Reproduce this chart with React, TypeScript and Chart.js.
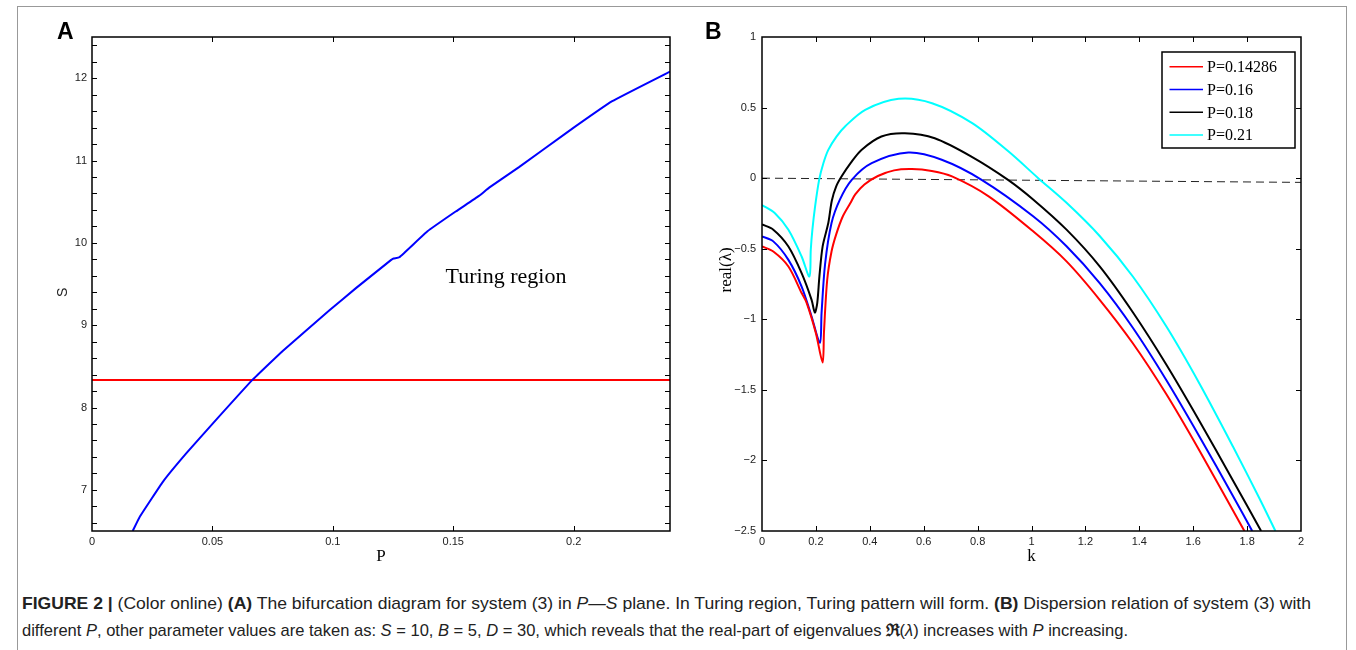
import React, { useEffect, useLayoutEffect, useRef } from 'react';
import { Chart, registerables } from 'chart.js';

Chart.register(...registerables);

// ---------- Panel A data ----------
const bifP = [0.0169, 0.0199, 0.0295, 0.0392, 0.0503, 0.0666, 0.0793, 0.0986, 0.1096, 0.1241, 0.1252, 0.1276, 0.1393, 0.151, 0.1607, 0.1649, 0.1773, 0.1967, 0.216, 0.24];
const bifS = [6.5, 6.676, 7.1, 7.445, 7.81, 8.335, 8.69, 9.18, 9.45, 9.79, 9.81, 9.824, 10.14, 10.38, 10.57, 10.67, 10.92, 11.33, 11.72, 12.08];
const hopfP = [0, 0.24];
const hopfS = [8.333, 8.333];
const aXTicks = [0, 0.05, 0.1, 0.15, 0.2];
const aYMajor = [7, 8, 9, 10, 11, 12];
const aYMinorStep = 0.2;

// ---------- Panel B data ----------
const seriesLabels = ['P=0.14286', 'P=0.16', 'P=0.18', 'P=0.21'];
const seriesColors = ['#ff0000', '#0000ff', '#000000', '#00ffff'];

const k1 = [0, 0.042, 0.098, 0.147, 0.166, 0.2, 0.225, 0.23, 0.242, 0.258, 0.275, 0.3, 0.328, 0.346, 0.38, 0.43, 0.49, 0.556, 0.63, 0.705, 0.841, 1.006, 1.13, 1.253, 1.376, 1.5, 1.623, 1.79];
const re1 = [-0.484, -0.52, -0.626, -0.814, -0.885, -1.098, -1.306, -1.09, -0.72, -0.52, -0.4, -0.27, -0.176, -0.115, -0.045, 0.015, 0.055, 0.064, 0.05, 0.012, -0.129, -0.377, -0.59, -0.862, -1.17, -1.53, -1.93, -2.5];

const k2 = [0, 0.042, 0.098, 0.147, 0.184, 0.215, 0.221, 0.234, 0.258, 0.289, 0.333, 0.407, 0.543, 0.667, 0.815, 1.006, 1.13, 1.253, 1.376, 1.5, 1.623, 1.747, 1.819];
const re2 = [-0.413, -0.448, -0.579, -0.768, -0.98, -1.167, -0.956, -0.61, -0.318, -0.152, -0.012, 0.106, 0.181, 0.13, -0.012, -0.27, -0.483, -0.744, -1.06, -1.43, -1.83, -2.25, -2.5];

const k3 = [0, 0.042, 0.098, 0.147, 0.184, 0.196, 0.205, 0.213, 0.225, 0.246, 0.259, 0.275, 0.295, 0.33, 0.369, 0.443, 0.53, 0.641, 0.777, 0.913, 1.006, 1.13, 1.253, 1.376, 1.5, 1.623, 1.747, 1.852];
const re3 = [-0.328, -0.365, -0.484, -0.673, -0.862, -0.952, -0.885, -0.696, -0.483, -0.318, -0.16, -0.06, 0.011, 0.11, 0.2, 0.295, 0.318, 0.283, 0.153, -0.012, -0.151, -0.365, -0.625, -0.95, -1.32, -1.72, -2.14, -2.5];

const k4 = [0, 0.048, 0.098, 0.147, 0.176, 0.181, 0.187, 0.197, 0.212, 0.228, 0.246, 0.277, 0.309, 0.383, 0.507, 0.631, 0.78, 0.914, 1.025, 1.13, 1.253, 1.376, 1.5, 1.623, 1.747, 1.846, 1.905];
const re4 = [-0.191, -0.248, -0.366, -0.555, -0.697, -0.507, -0.365, -0.2, -0.012, 0.107, 0.2, 0.296, 0.368, 0.484, 0.562, 0.531, 0.39, 0.19, 0.0, -0.175, -0.41, -0.697, -1.05, -1.455, -1.9, -2.27, -2.5];

const zeroK = [0, 2];
const zeroRe = [0, -0.03];
const bXTicks = [0, 0.2, 0.4, 0.6, 0.8, 1, 1.2, 1.4, 1.6, 1.8, 2];
const bYTicks = [-2.5, -2, -1.5, -1, -0.5, 0, 0.5, 1];

// ---------- helpers ----------
const fmt = (v: number) => {
  const r = Math.round(v * 1e6) / 1e6;
  return (r < 0 ? '\u2212' : '') + String(Math.abs(r));
};
const pts = (xs: number[], ys: number[]) => xs.map((x, i) => ({ x, y: ys[i] }));

const aYTicks: number[] = [];
for (let i = 0; 6.6 + aYMinorStep * i < 12.45; i++) {
  aYTicks.push(Math.round((6.6 + aYMinorStep * i) * 1e6) / 1e6);
}

const SANS = "'Liberation Sans', Arial, Helvetica, sans-serif";
const TICK_FONT = { family: SANS, size: 11 };
const SERIF = "'Liberation Serif', 'Times New Roman', serif";

const frameTicks = {
  id: 'frameTicks',
  afterDraw(chart: any, _a: any, opts: any) {
    const { ctx, chartArea: a, scales } = chart;
    const len = opts.len || 5;
    ctx.save();
    ctx.strokeStyle = '#000';
    ctx.lineWidth = 1;
    ctx.beginPath();
    scales.x.ticks.forEach((t: any) => {
      const px = Math.round(scales.x.getPixelForValue(t.value)) + 0.5;
      if (px <= a.left + 1 || px >= a.right - 1) return;
      ctx.moveTo(px, a.bottom);
      ctx.lineTo(px, a.bottom - len);
      ctx.moveTo(px, a.top);
      ctx.lineTo(px, a.top + len);
    });
    scales.y.ticks.forEach((t: any) => {
      const py = Math.round(scales.y.getPixelForValue(t.value)) + 0.5;
      if (py <= a.top + 1 || py >= a.bottom - 1) return;
      ctx.moveTo(a.left, py);
      ctx.lineTo(a.left + len, py);
      ctx.moveTo(a.right, py);
      ctx.lineTo(a.right - len, py);
    });
    ctx.stroke();
    ctx.lineWidth = 1.5;
    ctx.strokeRect(a.left, a.top, a.right - a.left, a.bottom - a.top);
    ctx.restore();
  },
};

// rotated y-axis title, centred on a value of the y scale
const sideTitle = {
  id: 'sideTitle',
  afterDraw(chart: any, _a: any, opts: any) {
    if (!opts || !opts.text) return;
    const { ctx, scales } = chart;
    ctx.save();
    ctx.translate(opts.x, scales.y.getPixelForValue(opts.y));
    ctx.rotate(-Math.PI / 2);
    ctx.font = opts.font;
    ctx.fillStyle = opts.color || '#000';
    ctx.textAlign = 'center';
    ctx.textBaseline = 'middle';
    ctx.fillText(opts.text, 0, 0);
    ctx.restore();
  },
};

const noteText = {
  id: 'noteText',
  afterDatasetsDraw(chart: any, _a: any, opts: any) {
    if (!opts || !opts.text) return;
    const { ctx, scales } = chart;
    ctx.save();
    ctx.font = opts.font;
    ctx.fillStyle = '#000';
    ctx.textAlign = 'center';
    ctx.textBaseline = 'middle';
    ctx.fillText(opts.text, scales.x.getPixelForValue(opts.x), scales.y.getPixelForValue(opts.y));
    ctx.restore();
  },
};

const boxLegend = {
  id: 'boxLegend',
  afterDraw(chart: any, _a: any, opts: any) {
    if (!opts || !opts.show) return;
    const { ctx, chartArea: a } = chart;
    const items = chart.data.datasets.filter((d: any) => !d.noLegend);
    const w = 133, h = 96;
    const left = a.right - 6 - w;
    const top = a.top + 15;
    ctx.save();
    ctx.fillStyle = '#fff';
    ctx.fillRect(left, top, w, h);
    ctx.strokeStyle = '#000';
    ctx.lineWidth = 1.5;
    ctx.strokeRect(left, top, w, h);
    ctx.font = `16px ${SERIF}`;
    ctx.textBaseline = 'middle';
    ctx.textAlign = 'left';
    items.forEach((d: any, i: number) => {
      const y = top + 14.7 + i * 22.8;
      ctx.strokeStyle = d.borderColor;
      ctx.lineWidth = 1.5;
      ctx.beginPath();
      ctx.moveTo(left + 7.5, y);
      ctx.lineTo(left + 41, y);
      ctx.stroke();
      ctx.fillStyle = '#000';
      ctx.fillText(d.label, left + 45, y + 1);
    });
    ctx.restore();
  },
};

function useChart(ref: React.RefObject<HTMLCanvasElement>, make: (c: HTMLCanvasElement) => Chart) {
  useEffect(() => {
    if (!ref.current) return;
    const ch = make(ref.current);
    return () => ch.destroy();
  }, []);
}

function FitLine({ width, top, children }: { width: number; top: number; children: React.ReactNode }) {
  const ref = useRef<HTMLDivElement>(null);
  useLayoutEffect(() => {
    const el = ref.current;
    if (!el) return;
    el.style.transform = 'none';
    const w = el.getBoundingClientRect().width;
    if (w > 0) el.style.transform = `scaleX(${width / w})`;
  }, [width]);
  return (
    <div
      ref={ref}
      style={{
        position: 'absolute',
        left: 22,
        top,
        whiteSpace: 'nowrap',
        display: 'inline-block',
        transformOrigin: '0 0',
        fontFamily: "'Liberation Sans Narrow', 'Liberation Sans', Arial, sans-serif",
        fontSize: 17,
        lineHeight: '20px',
        color: '#222',
      }}
    >
      {children}
    </div>
  );
}

const lineDs = (label: string, data: any[], color: string, tension: number) => ({
  label,
  data,
  borderColor: color,
  borderWidth: 2,
  pointRadius: 0,
  tension,
  fill: false,
});

export default function App() {
  const refA = useRef<HTMLCanvasElement>(null);
  const refB = useRef<HTMLCanvasElement>(null);

  useChart(refA, (c) =>
    new Chart(c, {
      type: 'line',
      data: {
        datasets: [
          lineDs('Turing curve', pts(bifP, bifS), '#0000ff', 0.1),
          lineDs('Hopf line', pts(hopfP, hopfS), '#ff0000', 0),
        ],
      },
      options: {
        responsive: false,
        animation: false,
        layout: { padding: { left: 0, top: 37, right: 30, bottom: 0 } },
        plugins: {
          legend: { display: false },
          tooltip: { enabled: false },
          frameTicks: { len: 5 },
          noteText: { text: 'Turing region', x: 0.1719, y: 9.585, font: `22px ${SERIF}` },
          sideTitle: { text: 'S', x: 63, y: 9.4, font: `14px ${SANS}`, color: '#222' },
        } as any,
        scales: {
          x: {
            type: 'linear',
            min: 0,
            max: 0.24,
            grid: { display: false, drawTicks: false },
            border: { display: false },
            afterBuildTicks: (s: any) => { s.ticks = aXTicks.map((v) => ({ value: v })); },
            afterFit: (s: any) => { s.height = 49; },
            ticks: { autoSkip: false, maxRotation: 0, padding: 4, font: TICK_FONT, color: '#222', callback: (v: any) => fmt(+v) },
            title: { display: true, text: 'P', color: '#000', font: { family: SERIF, size: 17 }, padding: { top: 0, bottom: 13 } },
          },
          y: {
            type: 'linear',
            min: 6.5,
            max: 12.5,
            grid: { display: false, drawTicks: false },
            border: { display: false },
            afterBuildTicks: (s: any) => { s.ticks = aYTicks.map((v) => ({ value: v })); },
            afterFit: (s: any) => { s.width = 92; },
            ticks: { autoSkip: false, padding: 5, font: TICK_FONT, color: '#222', callback: (v: any) => (aYMajor.some((m) => Math.abs(m - v) < 1e-6) ? fmt(+v) : '') },
            title: { display: false },
          },
        },
      },
      plugins: [frameTicks, noteText, sideTitle],
    } as any)
  );

  useChart(refB, (c) =>
    new Chart(c, {
      type: 'line',
      data: {
        datasets: [
          lineDs(seriesLabels[0], pts(k1, re1), seriesColors[0], 0.3),
          lineDs(seriesLabels[1], pts(k2, re2), seriesColors[1], 0.3),
          lineDs(seriesLabels[2], pts(k3, re3), seriesColors[2], 0.3),
          lineDs(seriesLabels[3], pts(k4, re4), seriesColors[3], 0.3),
          { label: 'zero', noLegend: true, data: pts(zeroK, zeroRe), borderColor: '#222', borderWidth: 1, borderDash: [8, 5], pointRadius: 0, tension: 0, fill: false },
        ],
      },
      options: {
        responsive: false,
        animation: false,
        layout: { padding: { left: 0, top: 37, right: 55, bottom: 0 } },
        plugins: {
          legend: { display: false },
          tooltip: { enabled: false },
          frameTicks: { len: 5 },
          boxLegend: { show: true },
          sideTitle: { text: 'real(\u03bb)', x: 27, y: -0.65, font: `17px ${SERIF}`, color: '#000' },
        } as any,
        scales: {
          x: {
            type: 'linear',
            min: 0,
            max: 2,
            grid: { display: false, drawTicks: false },
            border: { display: false },
            afterBuildTicks: (s: any) => { s.ticks = bXTicks.map((v) => ({ value: v })); },
            afterFit: (s: any) => { s.height = 49; },
            ticks: { autoSkip: false, maxRotation: 0, padding: 4, font: TICK_FONT, color: '#222', callback: (v: any) => fmt(+v) },
            title: { display: true, text: 'k', color: '#000', font: { family: SERIF, size: 17 }, padding: { top: 0, bottom: 13 } },
          },
          y: {
            type: 'linear',
            min: -2.5,
            max: 1,
            grid: { display: false, drawTicks: false },
            border: { display: false },
            afterBuildTicks: (s: any) => { s.ticks = bYTicks.map((v) => ({ value: v })); },
            afterFit: (s: any) => { s.width = 62; },
            ticks: { autoSkip: false, padding: 6, font: TICK_FONT, color: '#222', callback: (v: any) => fmt(+v) },
            title: { display: false },
          },
        },
      },
      plugins: [frameTicks, boxLegend, sideTitle],
    } as any)
  );

  const letter: React.CSSProperties = {
    position: 'absolute',
    fontFamily: SANS,
    fontWeight: 'bold',
    fontSize: 23,
    lineHeight: '26px',
    color: '#000',
  };

  return (
    <div style={{ position: 'absolute', left: 0, top: 0, width: 1356, height: 650, background: '#fff', overflow: 'hidden' }}>
      <div style={{ position: 'absolute', left: 17, top: 6, width: 1330, height: 700, border: '1px solid #999', boxSizing: 'border-box' }} />
      <div style={{ position: 'absolute', left: 0, top: 0, width: 700, height: 580 }}>
        <canvas ref={refA} width={700} height={580} />
      </div>
      <div style={{ position: 'absolute', left: 700, top: 0, width: 656, height: 580 }}>
        <canvas ref={refB} width={656} height={580} />
      </div>
      <div style={{ ...letter, left: 57, top: 18 }}>A</div>
      <div style={{ ...letter, left: 705, top: 18 }}>B</div>
      <FitLine width={1289} top={594}>
        <b>FIGURE 2 |</b> (Color online) <b>(A)</b> The bifurcation diagram for system (3) in <i>P</i>—<i>S</i> plane. In Turing region, Turing pattern will form. <b>(B)</b> Dispersion relation of system (3) with
      </FitLine>
      <FitLine width={1106} top={621}>
        different <i>P</i>, other parameter values are taken as: <i>S</i> = 10, <i>B</i> = 5, <i>D</i> = 30, which reveals that the real-part of eigenvalues <b>{'\u211c'}</b>(<i>{'\u03bb'}</i>) increases with <i>P</i> increasing.
      </FitLine>
    </div>
  );
}
